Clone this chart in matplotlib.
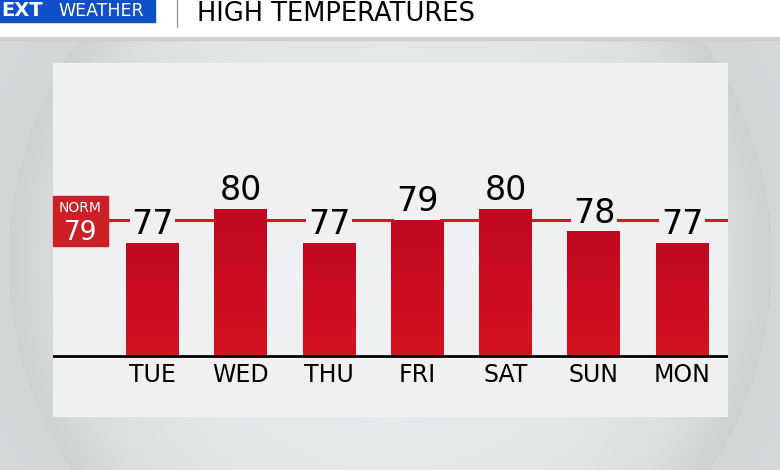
import matplotlib.pyplot as plt
import matplotlib.patches as patches
import matplotlib.transforms as mtransforms
from matplotlib.colors import LinearSegmentedColormap
import numpy as np

plt.rcParams["font.family"] = ["DejaVu Sans"]

days = ["TUE", "WED", "THU", "FRI", "SAT", "SUN", "MON"]
highs = [77, 80, 77, 79, 80, 78, 77]
normal = 79
base = 67

W, H = 780, 470
PANEL = "#eef0f2"
fig = plt.figure(figsize=(W / 100, H / 100), dpi=100)

# background with soft circular vignette
bg = fig.add_axes([0, 0, 1, 1])
yy, xx = np.mgrid[0:H, 0:W]
r = np.hypot(xx - 390, yy - 260) / 382.0
val = np.where(r < 1, 0.915 - 0.095 * np.clip(r, 0, 1) ** 5,
               0.845 + 0.02 * np.clip(r - 1, 0, 1))
rgb = np.dstack([val * 0.985, val, val * 1.005])
bg.imshow(np.clip(rgb, 0, 1), extent=[0, W, H, 0], aspect="auto")
bg.set_xlim(0, W)
bg.set_ylim(H, 0)
bg.axis("off")

# header band
bg.add_patch(patches.Rectangle((0, 0), W, 37, color="white", zorder=2))
bg.add_patch(patches.Rectangle((0, 37), W, 3, color="#c9cfd2", zorder=2))
bg.add_patch(patches.Rectangle((0, 0), 155, 22, color="#0f50c8", zorder=3))
bg.text(1, 11, "EXT", color="white", fontsize=14, fontweight="bold",
        ha="left", va="center", zorder=4)
bg.text(101, 11.5, "WEATHER", color="white", fontsize=12.5,
        ha="center", va="center", zorder=4)
bg.plot([177, 177], [0, 27], color="#9aa0a4", lw=1, zorder=4)
bg.text(197, 21, "HIGH TEMPERATURES", color="black", fontsize=18.5,
        ha="left", va="baseline", zorder=4)

# chart panel
ax = fig.add_axes([53 / W, 1 - 417 / H, 675 / W, 354 / H])
ax.set_facecolor(PANEL)
for s in ax.spines.values():
    s.set_visible(False)
ax.set_xticks([])
ax.set_yticks([])

x = np.arange(len(days))
ax.axhline(normal, color="#cf1b24", lw=2.2, zorder=1)

grad = np.linspace(0, 1, 100).reshape(-1, 1)
cmap = LinearSegmentedColormap.from_list("bar", ["#d51220", "#c0081f"])
bars = ax.bar(x, [h - base for h in highs], bottom=base, width=0.6,
              color="#c90c21", zorder=2)
for b in bars:
    im = ax.imshow(grad, cmap=cmap, aspect="auto", zorder=2.5,
                   extent=[b.get_x(), b.get_x() + b.get_width(),
                           b.get_y() + b.get_height(), b.get_y()],
                   origin="upper")
    im.set_clip_path(b)
ax.set_xlim(-1.127, 6.518)
ax.set_ylim(61.62, 92.86)

for xi, h in zip(x, highs):
    ax.text(xi, h + 0.15, str(h), ha="center", va="bottom", fontsize=24,
            color="black", zorder=4,
            bbox=dict(boxstyle="square,pad=0.05", fc=PANEL, ec="none"))

ax.axhline(base, color="black", lw=2, zorder=3)
for xi, d in zip(x, days):
    ax.text(xi, base - 0.65, d, ha="center", va="top", fontsize=17,
            color="black", zorder=4)

# norm tag on left edge
trans = mtransforms.blended_transform_factory(ax.transAxes, ax.transData)
ax.add_patch(patches.Rectangle((0, 76.7), 0.0815, 4.4, transform=trans,
                               color="#cc1f26", zorder=5, clip_on=False))
ax.text(0.0407, 80.05, "NORM", transform=trans, ha="center", va="center",
        color="white", fontsize=10, zorder=6)
ax.text(0.0407, 77.9, str(normal), transform=trans, ha="center", va="center",
        color="white", fontsize=19, zorder=6)

fig.savefig("out.png", dpi=100)
